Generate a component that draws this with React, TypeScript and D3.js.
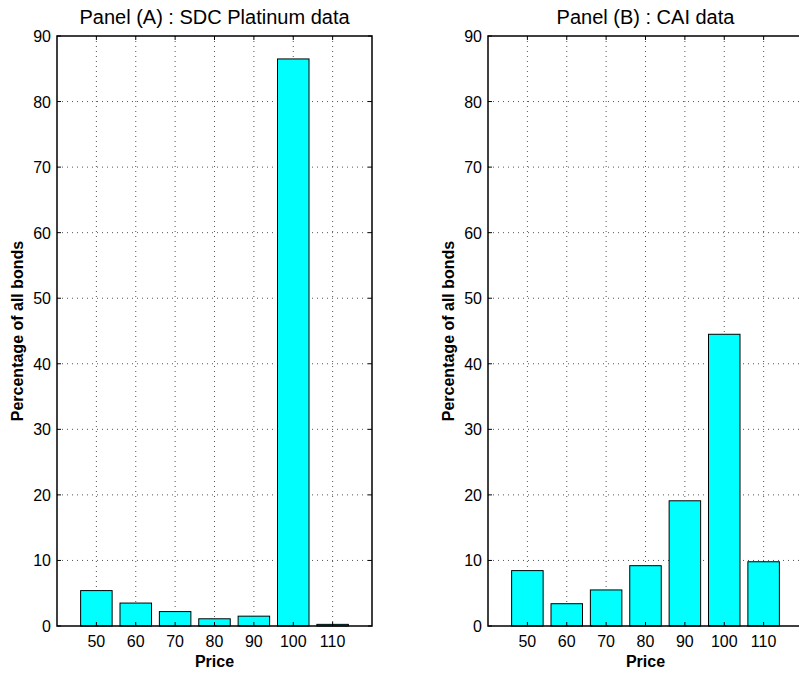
import { useRef, useEffect } from "react";
import * as d3 from "d3";

// Price buckets shared by both panels
const prices = [50, 60, 70, 80, 90, 100, 110];
// Percentage of all bonds per price bucket
const sdcValues = [5.4, 3.5, 2.2, 1.1, 1.5, 86.5, 0.25];
const caiValues = [8.45, 3.4, 5.5, 9.2, 19.1, 44.5, 9.8];
const yTicks = [0, 10, 20, 30, 40, 50, 60, 70, 80, 90];
const titles = ["Panel (A) : SDC Platinum data", "Panel (B) : CAI data"];

export default function App() {
  const ref = useRef(null);

  const chartAttr = {
    width: 799,
    height: 675,
    top: 36,
    bottom: 626,
    panelWidth: 315,
    lefts: [57, 488],
    font: "'Liberation Sans', Arial, Helvetica, sans-serif"
  };

  useEffect(() => {
    const svg = d3.select(ref.current);
    svg.selectAll("*").remove();

    const yScale = d3.scaleLinear()
      .domain([0, 90])
      .range([chartAttr.bottom, chartAttr.top]);

    const panels = [sdcValues, caiValues];

    panels.forEach((values, p) => {
      const left = chartAttr.lefts[p];
      const right = left + chartAttr.panelWidth;
      const xScale = d3.scaleLinear().domain([40, 120]).range([left, right]);
      const barW = xScale(48) - xScale(40);

      const g = svg.append("g");

      // dotted grid
      g.selectAll(".gx")
        .data(prices)
        .enter()
        .append("line")
        .attr("x1", d => xScale(d))
        .attr("x2", d => xScale(d))
        .attr("y1", chartAttr.top)
        .attr("y2", chartAttr.bottom)
        .attr("stroke", "#555")
        .attr("stroke-width", 1)
        .attr("stroke-dasharray", "1,4");

      g.selectAll(".gy")
        .data(yTicks.slice(1, -1))
        .enter()
        .append("line")
        .attr("x1", left)
        .attr("x2", right)
        .attr("y1", d => yScale(d))
        .attr("y2", d => yScale(d))
        .attr("stroke", "#555")
        .attr("stroke-width", 1)
        .attr("stroke-dasharray", "1,4");

      // bars
      g.selectAll("rect.bar")
        .data(values)
        .enter()
        .append("rect")
        .attr("class", "bar")
        .attr("x", (d, i) => xScale(prices[i]) - barW / 2)
        .attr("y", d => yScale(d))
        .attr("width", barW)
        .attr("height", d => chartAttr.bottom - yScale(d))
        .attr("fill", "#00ffff")
        .attr("stroke", "#000")
        .attr("stroke-width", 1);

      // box
      g.append("rect")
        .attr("x", left)
        .attr("y", chartAttr.top)
        .attr("width", chartAttr.panelWidth)
        .attr("height", chartAttr.bottom - chartAttr.top)
        .attr("fill", "none")
        .attr("stroke", "#000")
        .attr("stroke-width", 1.5);

      // tick marks (inward, all four sides)
      prices.forEach(d => {
        g.append("line")
          .attr("x1", xScale(d)).attr("x2", xScale(d))
          .attr("y1", chartAttr.bottom).attr("y2", chartAttr.bottom - 4)
          .attr("stroke", "#000");
        g.append("line")
          .attr("x1", xScale(d)).attr("x2", xScale(d))
          .attr("y1", chartAttr.top).attr("y2", chartAttr.top + 4)
          .attr("stroke", "#000");
      });
      yTicks.forEach(d => {
        g.append("line")
          .attr("x1", left).attr("x2", left + 4)
          .attr("y1", yScale(d)).attr("y2", yScale(d))
          .attr("stroke", "#000");
        g.append("line")
          .attr("x1", right).attr("x2", right - 4)
          .attr("y1", yScale(d)).attr("y2", yScale(d))
          .attr("stroke", "#000");
      });

      // tick labels
      g.selectAll(".xl")
        .data(prices)
        .enter()
        .append("text")
        .attr("x", d => xScale(d))
        .attr("y", chartAttr.bottom + 21)
        .attr("text-anchor", "middle")
        .attr("font-family", chartAttr.font)
        .attr("font-size", 16)
        .text(d => d);

      g.selectAll(".yl")
        .data(yTicks)
        .enter()
        .append("text")
        .attr("x", left - 6)
        .attr("y", d => yScale(d) + 6)
        .attr("text-anchor", "end")
        .attr("font-family", chartAttr.font)
        .attr("font-size", 16)
        .text(d => d);

      // axis labels
      g.append("text")
        .attr("x", xScale(80))
        .attr("y", chartAttr.bottom + 41)
        .attr("text-anchor", "middle")
        .attr("font-family", chartAttr.font)
        .attr("font-weight", "bold")
        .attr("font-size", 16)
        .text("Price");

      g.append("text")
        .attr("transform", "translate(" + (left - 34) + "," + ((chartAttr.top + chartAttr.bottom) / 2) + ") rotate(-90)")
        .attr("text-anchor", "middle")
        .attr("font-family", chartAttr.font)
        .attr("font-weight", "bold")
        .attr("font-size", 16)
        .text("Percentage of all bonds");

      // title
      g.append("text")
        .attr("x", (left + right) / 2)
        .attr("y", chartAttr.top - 12)
        .attr("text-anchor", "middle")
        .attr("font-family", chartAttr.font)
        .attr("font-size", 20)
        .text(titles[p]);
    });
  }, []);

  return (
    <div>
      <svg
        ref={ref}
        width={chartAttr.width}
        height={chartAttr.height}
        style={{ position: "absolute", left: 0, top: 0, background: "#fff" }}
      />
    </div>
  );
}
